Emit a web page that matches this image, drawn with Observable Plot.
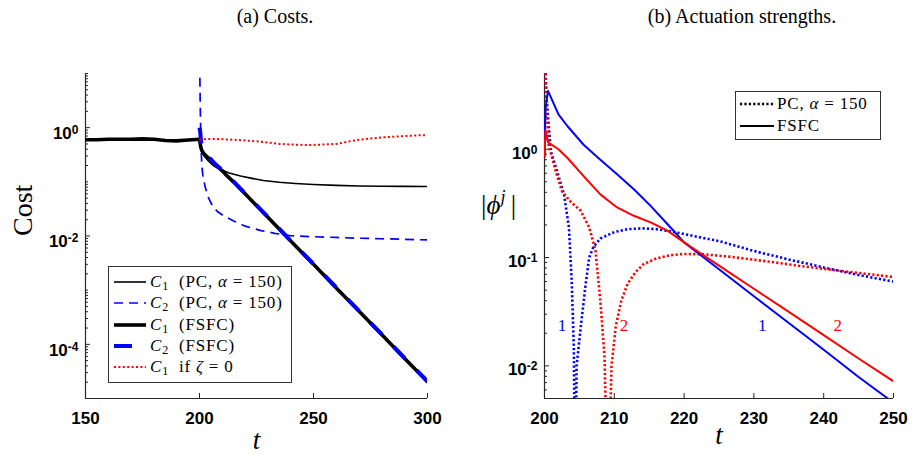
<!DOCTYPE html>
<html><head><meta charset="utf-8">
<script src="https://cdn.jsdelivr.net/npm/d3@7"></script>
<script src="https://cdn.jsdelivr.net/npm/@observablehq/plot@0.6"></script>
<style>
body{margin:0;background:#fff;}
#wrap{position:relative;width:912px;height:455px;overflow:hidden;font-family:"Liberation Serif","Times New Roman",serif;color:#000;}
#wrap > svg{position:absolute;top:0;}
.ttl{position:absolute;top:4px;font-size:20px;line-height:24px;white-space:nowrap;transform:translateX(-50%);font-family:"Liberation Serif",serif;}
.leg{position:absolute;background:#fff;border:1px solid #333;box-sizing:border-box;font-size:17px;letter-spacing:0.8px;font-family:"Liberation Serif",serif;}
.row{position:absolute;left:0;height:20px;line-height:20px;white-space:nowrap;}
.row > svg{position:absolute;top:5px;}
.row > .txt{position:absolute;top:0;}
.sb{font-size:12px;vertical-align:-3px;line-height:0;}
</style></head><body><div id="wrap"></div>
<script>
// ---------- data: (a) Costs ----------
const c1FSFC = [[150,0.60],[155,0.60],[160,0.61],[165,0.61],[170,0.61],[175,0.62],[180,0.61],[185,0.58],[190,0.57],[195,0.59],[200,0.61],[200.5,0.45],[201,0.38],[202,0.33],[203,0.30],[205,0.25],[207,0.205],[210,0.16],[212,0.13],[215,0.099],[220,0.060],[230,0.0221],[240,0.0081],[250,0.0030],[260,0.0011],[270,0.00041],[280,0.00015],[290,0.000055],[300,0.0000204]];
const c2FSFC = [[200,1.0],[200.3,0.85],[200.7,0.55],[201.2,0.42],[202,0.35],[203,0.31],[205,0.26],[207,0.21],[210,0.165],[212,0.133],[215,0.101],[220,0.061],[230,0.0224],[240,0.0082],[250,0.00304],[260,0.00112],[270,0.000415],[280,0.000152],[290,0.0000558],[300,0.0000207]];
const c1PC = [[200,0.61],[200.5,0.45],[201,0.36],[202,0.30],[204,0.24],[206,0.20],[209,0.17],[213,0.145],[218,0.128],[223,0.116],[228,0.106],[235,0.098],[242,0.093],[250,0.089],[260,0.086],[270,0.084],[280,0.083],[290,0.0825],[300,0.082]];
const c2PC = [[200,30],[200.3,3],[200.6,0.6],[201,0.2],[201.5,0.13],[202.5,0.08],[204,0.05],[206,0.034],[208,0.028],[211,0.023],[215,0.019],[220,0.0152],[227,0.0126],[233,0.0112],[240,0.0101],[250,0.0097],[260,0.0094],[270,0.0091],[280,0.0089],[290,0.0087],[300,0.00845]];
const c1Zeta0 = [[200,0.6],[203,0.62],[206,0.62],[210,0.61],[215,0.6],[220,0.58],[225,0.56],[230,0.53],[235,0.5],[240,0.49],[245,0.48],[250,0.48],[255,0.49],[260,0.5],[265,0.55],[270,0.6],[275,0.63],[280,0.66],[285,0.68],[290,0.7],[295,0.72],[300,0.73]];
const costXTicks = [150,200,250,300];
const costYTicks = [1e-4,1e-2,1];

// ---------- data: (b) Actuation strengths ----------
const phi1FSFC = [[200,0.85],[200.15,2.4],[200.5,3.45],[202,2.1],[203.3,1.63],[205.6,1.1],[208,0.8],[210.4,0.586],[212.8,0.427],[215.2,0.3],[217.6,0.204],[220,0.138],[225,0.078],[230,0.044],[235,0.0249],[240,0.0141],[245,0.0079],[250,0.00457]];
const phi2FSFC = [[200,0.85],[200.15,1.5],[200.5,1.16],[202,1.0],[203.3,0.83],[205.6,0.565],[208,0.383],[210.4,0.29],[212.8,0.243],[215.2,0.211],[217.6,0.177],[220,0.138],[225,0.0843],[230,0.0515],[235,0.0315],[240,0.0192],[245,0.0117],[250,0.0072]];
const phi1PC = [[200,8],[200.3,3],[200.9,0.96],[201.8,0.63],[202.8,0.38],[203.5,0.19],[203.9,0.06],[204.2,0.015],[204.4,0.0005],[204.6,0.01],[205.2,0.023],[205.9,0.057],[206.4,0.1],[207,0.125],[208,0.15],[210,0.172],[212,0.183],[214,0.186],[216,0.183],[218,0.175],[220,0.165],[222,0.155],[225,0.142],[230,0.115],[235,0.096],[240,0.081],[245,0.069],[250,0.06]];
const phi2PC = [[200,8],[200.3,2.5],[200.6,1.1],[201.6,0.63],[202.5,0.41],[203.7,0.33],[205.2,0.27],[206.4,0.19],[207.3,0.116],[208,0.04],[208.6,0.012],[209.1,0.0005],[209.6,0.01],[210.2,0.023],[211,0.04],[211.9,0.057],[213,0.073],[214.2,0.087],[216,0.098],[218,0.105],[220,0.108],[223,0.107],[227,0.101],[232,0.092],[237,0.083],[242,0.076],[246,0.071],[250,0.066]];
const phiXTicks = [200,210,220,230,240,250];
const phiYTicks = [0.01,0.1,1];
const curveLabels = [
  {t:202.5, v:0.0238, text:"1", series:"j1"},
  {t:211.4, v:0.0238, text:"2", series:"j2"},
  {t:231.2, v:0.0238, text:"1", series:"j1"},
  {t:242.0, v:0.0238, text:"2", series:"j2"}
];

// ---------- helpers ----------
const BLUE = "#0000ff", RED = "#ff0000", AX = "#262626";
const SANS = "Liberation Sans, Arial, Helvetica, sans-serif";
const SERIF = "Liberation Serif, Times New Roman, serif";
const px = d => d[0], py = d => d[1];
function minorTicks(lo, hi) {
  const out = [];
  for (let e = Math.floor(Math.log10(lo)); e <= Math.ceil(Math.log10(hi)); e++)
    for (let k = 1; k <= 9; k++) { const v = k * Math.pow(10, e); if (v >= lo * 0.9999 && v <= hi * 1.0001) out.push(v); }
  return out;
}
const powFmt = d => "10^" + Math.round(Math.log10(d));
function superscripts(svg) {
  const ns = "http://www.w3.org/2000/svg";
  svg.querySelectorAll('g[aria-label="y-axis tick label"] text').forEach(t => {
    const s = t.textContent; if (!s.includes("^")) return;
    const [b, e] = s.split("^");
    t.textContent = "";
    const t1 = document.createElementNS(ns, "tspan"); t1.textContent = b;
    const t2 = document.createElementNS(ns, "tspan"); t2.textContent = e;
    t2.setAttribute("dy", "-0.42em"); t2.setAttribute("font-size", "12");
    t.append(t1, t2);
  });
}
function frameAxes({xDomain, yDomain, xTicks, yTicks, innerW, innerH, labelDy}) {
  const yMinor = minorTicks(yDomain[0], yDomain[1]).filter(v => !yTicks.some(m => Math.abs(m - v) / v < 1e-6));
  return [
    Plot.tickY(yMinor, {y: d => d, stroke: AX, strokeWidth: 1, insetRight: innerW - 3}),
    Plot.tickY(yTicks, {y: d => d, stroke: AX, strokeWidth: 1, insetRight: innerW - 5}),
    Plot.tickX(xTicks, {x: d => d, stroke: AX, strokeWidth: 1, insetTop: innerH - 5}),
    Plot.ruleX([xDomain[0]], {stroke: AX, strokeWidth: 1.2}),
    Plot.ruleY([yDomain[0]], {stroke: AX, strokeWidth: 1.2}),
    Plot.axisY(yTicks, {anchor: "left", tickSize: 0, tickPadding: 7, dy: labelDy, tickFormat: powFmt, label: null, fontSize: 17, fontWeight: "bold", fontFamily: SANS, fill: "#000"}),
    Plot.axisX(xTicks, {anchor: "bottom", tickSize: 0, tickPadding: 13, tickFormat: d => String(d), label: null, fontSize: 17, fontWeight: "bold", fontFamily: SANS, fill: "#000"})
  ];
}
const dotted = {strokeLinecap: "butt", strokeLinejoin: "miter"};

const W = 456, H = 455;
// ---------- (a) ----------
const costX = [150, 300], costY = [1e-5, 10];
const mA = {l: 85, r: 29, t: 73, b: 57};
const left = Plot.plot({
  width: W, height: H, marginLeft: mA.l, marginRight: mA.r, marginTop: mA.t, marginBottom: mA.b,
  x: {domain: costX, axis: null}, y: {type: "log", domain: costY, axis: null},
  style: {background: "transparent", overflow: "visible"},
  marks: [
    ...frameAxes({xDomain: costX, yDomain: costY, xTicks: costXTicks, yTicks: costYTicks, innerW: W - mA.l - mA.r, innerH: H - mA.t - mA.b, labelDy: 6}),
    Plot.line(c1PC, {x: px, y: py, stroke: "#000", strokeWidth: 1.6, clip: true}),
    Plot.line(c2PC, {x: px, y: py, stroke: BLUE, strokeWidth: 1.7, strokeDasharray: "9,6", clip: true, ...dotted}),
    Plot.line(c1FSFC, {x: px, y: py, stroke: "#000", strokeWidth: 3.6, clip: true}),
    Plot.line(c2FSFC, {x: px, y: py, stroke: BLUE, strokeWidth: 4, strokeDasharray: "16,17", clip: true, ...dotted}),
    Plot.line(c1Zeta0, {x: px, y: py, stroke: RED, strokeWidth: 2, strokeDasharray: "2,2.4", clip: true, ...dotted}),
    Plot.text(["Cost"], {text: d => d, frameAnchor: "left", dx: -62, rotate: -90, fontSize: 28, fontFamily: SERIF}),
    Plot.text(["t"], {text: d => d, frameAnchor: "bottom", dy: 50, fontSize: 27, fontStyle: "italic", fontFamily: SERIF})
  ]
});
left.style.left = "0px";
superscripts(left);

// ---------- (b) ----------
const phiX = [200, 250], phiY = [0.005, 5];
const mB = {l: 88, r: 19, t: 73, b: 57};
const right = Plot.plot({
  width: W, height: H, marginLeft: mB.l, marginRight: mB.r, marginTop: mB.t, marginBottom: mB.b,
  x: {domain: phiX, axis: null}, y: {type: "log", domain: phiY, axis: null},
  color: {domain: ["j1", "j2"], range: [BLUE, RED]},
  style: {background: "transparent", overflow: "visible"},
  marks: [
    ...frameAxes({xDomain: phiX, yDomain: phiY, xTicks: phiXTicks, yTicks: phiYTicks, innerW: W - mB.l - mB.r, innerH: H - mB.t - mB.b, labelDy: 4}),
    Plot.line(phi1PC, {x: px, y: py, stroke: BLUE, strokeWidth: 2.6, strokeDasharray: "2.2,2.2", clip: true, ...dotted}),
    Plot.line(phi2PC, {x: px, y: py, stroke: RED, strokeWidth: 2.6, strokeDasharray: "2.2,2.2", clip: true, ...dotted}),
    Plot.line(phi1FSFC, {x: px, y: py, stroke: BLUE, strokeWidth: 2, clip: true}),
    Plot.line(phi2FSFC, {x: px, y: py, stroke: RED, strokeWidth: 2, clip: true}),
    Plot.text(curveLabels, {x: "t", y: "v", text: "text", fill: "series", fontSize: 17, fontFamily: SERIF}),
    Plot.text(["t"], {text: d => d, frameAnchor: "bottom", dy: 45, fontSize: 27, fontStyle: "italic", fontFamily: SERIF})
  ]
});
right.style.left = "456px";
superscripts(right);

const wrap = document.getElementById("wrap");
wrap.append(left, right);

// titles and labels
wrap.insertAdjacentHTML("beforeend", `
<div class="ttl" style="left:275px">(a) Costs.</div>
<div class="ttl" style="left:742px">(b) Actuation strengths.</div>
<div style="position:absolute;left:481px;top:190px;font-size:27px;line-height:30px;white-space:nowrap;font-family:'Liberation Serif',serif">|<i>ϕ</i><span style="font-size:18px;vertical-align:11px;line-height:0"><i>j</i></span>&thinsp;|</div>
`);

// legend (a)
const C = (n) => `<i>C</i><span class="sb">${n}</span>`;
const legA = [
  {label: C(1) + '&nbsp; (PC, <i>α</i> = 150)', stroke: "#000", w: 1.6, dash: null, len: 32},
  {label: C(2) + '&nbsp; (PC, <i>α</i> = 150)', stroke: BLUE, w: 1.7, dash: "9,6", len: 32},
  {label: C(1) + '&nbsp; (FSFC)', stroke: "#000", w: 3.6, dash: null, len: 32},
  {label: C(2) + '&nbsp; (FSFC)', stroke: BLUE, w: 4, dash: null, len: 18},
  {label: C(1) + '&nbsp; if <i>ζ</i> = 0', stroke: RED, w: 2, dash: "2,2.4", len: 32}
];
let html = '<div class="leg" style="left:108px;top:266px;width:184px;height:117px">';
legA.forEach((e, i) => {
  html += `<div class="row" style="top:${5 + i * 21.3}px;width:184px"><svg width="34" height="10" style="left:4px"><line x1="1" x2="${1 + e.len}" y1="5" y2="5" stroke="${e.stroke}" stroke-width="${e.w}" ${e.dash ? `stroke-dasharray="${e.dash}"` : ""}/></svg><span class="txt" style="left:41px">${e.label}</span></div>`;
});
html += '</div>';
// legend (b)
html += '<div class="leg" style="left:735px;top:91px;width:146px;height:49px">';
[{label: 'PC, <i>α</i> = 150', dash: "2.2,2.2", w: 2.6}, {label: 'FSFC', dash: null, w: 2}].forEach((e, i) => {
  html += `<div class="row" style="top:${2 + i * 22}px;width:146px"><svg width="36" height="10" style="left:3px"><line x1="1" x2="35" y1="5" y2="5" stroke="#000" stroke-width="${e.w}" ${e.dash ? `stroke-dasharray="${e.dash}"` : ""}/></svg><span class="txt" style="left:41px">${e.label}</span></div>`;
});
html += '</div>';
wrap.insertAdjacentHTML("beforeend", html);
</script>
</body></html>
